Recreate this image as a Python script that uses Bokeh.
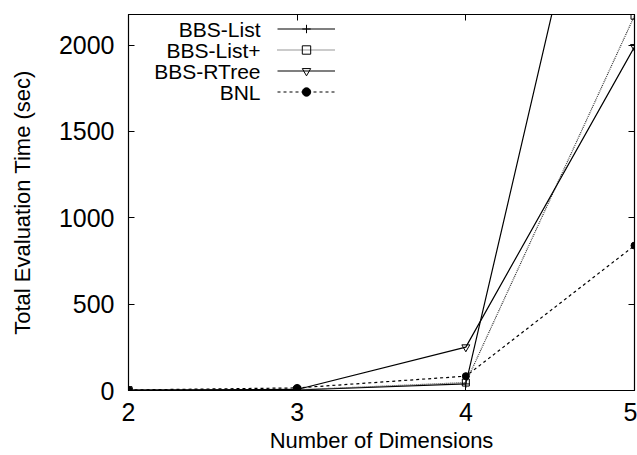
from bokeh.plotting import figure
from bokeh.models import Range1d, Legend, LegendItem, Label, FixedTicker, LinearAxis, Title
from bokeh.embed import file_html
from bokeh.resources import INLINE

dims = [2, 3, 4, 5]
bbs_list = [2, 3, 38, 4237]
bbs_list_plus = [2, 4, 46, 2170]
bbs_rtree = [1, 6, 251, 1990]
bnl = [3, 15, 83, 839]
series_names = ["BBS-List", "BBS-List+", "BBS-RTree", "BNL"]
x_ticks = [2, 3, 4, 5]
y_ticks = [0, 500, 1000, 1500, 2000]
x_title = "Number of Dimensions"
y_title = "Total Evaluation Time (sec)"

FONT = "Liberation Sans"

p = figure(width=637, height=455, output_backend="svg", toolbar_location=None,
           x_range=Range1d(2, 5), y_range=Range1d(0, 2177),
           min_border_left=128, min_border_right=3, min_border_top=14,
           min_border_bottom=65)
p.background_fill_color = "white"
p.border_fill_color = "white"
p.outline_line_color = "black"
p.outline_line_width = 1.2
p.grid.visible = False

for ax in (p.xaxis[0], p.yaxis[0]):
    ax.major_tick_in = 6
    ax.major_tick_out = 0
    ax.minor_tick_in = 0
    ax.minor_tick_out = 0
    ax.axis_line_color = "black"
    ax.major_label_text_font = FONT
    ax.major_label_text_font_size = "25px"
    ax.major_label_text_color = "black"
    ax.axis_label_text_font = FONT
    ax.axis_label_text_font_size = "22px"
    ax.axis_label_text_font_style = "normal"
    ax.axis_label_text_color = "black"

p.xaxis.ticker = FixedTicker(ticks=x_ticks)
p.yaxis.ticker = FixedTicker(ticks=y_ticks)
p.yaxis.axis_label = y_title
p.xaxis.major_label_standoff = 12
p.yaxis.major_label_standoff = 14
p.yaxis.axis_label_standoff = 21

# x-axis title below the tick labels
p.add_layout(Title(text=x_title, align="center", standoff=4, text_font=FONT,
                   text_font_size="22px", text_font_style="normal",
                   text_color="black"), "below")

# mirrored ticks
ra = LinearAxis(ticker=FixedTicker(ticks=y_ticks), major_label_text_font_size="0px",
                major_tick_in=6, major_tick_out=0, minor_tick_in=0, minor_tick_out=0,
                axis_line_color="black")
ta = LinearAxis(ticker=FixedTicker(ticks=x_ticks), major_label_text_font_size="0px",
                major_tick_in=6, major_tick_out=0, minor_tick_in=0, minor_tick_out=0,
                axis_line_color="black")
p.add_layout(ra, "right")
p.add_layout(ta, "above")

# series
l1 = p.line(dims, bbs_list, line_color="black", line_width=1.2)
m1 = p.scatter(dims, bbs_list, marker="cross", size=8, line_color="black", line_width=1)
l2 = p.line(dims, bbs_list_plus, line_color="#333333", line_width=1.2, line_dash="1 1")
m2 = p.scatter(dims, bbs_list_plus, marker="square", size=7, line_color="black",
               fill_color=None, line_width=1)
l3 = p.line(dims, bbs_rtree, line_color="black", line_width=1.2)
m3 = p.scatter(dims, bbs_rtree, marker="inverted_triangle", size=8, line_color="black",
               fill_color=None, line_width=1)
l4 = p.line(dims, bnl, line_color="black", line_width=1.2, line_dash="3 3")
m4 = p.scatter(dims, bnl, marker="circle", size=7, line_color="black", fill_color="black")

items = [LegendItem(label=n, renderers=[l, m]) for n, l, m in
         zip(series_names, [l1, l2, l3, l4], [m1, m2, m3, m4])]
legend = Legend(items=items, location=(149, 288), orientation="vertical",
                glyph_width=58, glyph_height=21, label_height=21, spacing=0,
                padding=0, margin=0, label_standoff=0,
                label_text_alpha=0.0, label_text_font_size="8px",
                background_fill_alpha=0, border_line_alpha=0)
p.add_layout(legend, "center")

for i, n in enumerate(series_names):
    p.add_layout(Label(x=132, y=378 - 17 - 21 * i, x_units="screen", y_units="screen",
                       text=n, text_align="right", text_baseline="middle",
                       text_font=FONT, text_font_size="21px", text_color="black"))

open("out.html", "w").write(file_html(p, INLINE))
